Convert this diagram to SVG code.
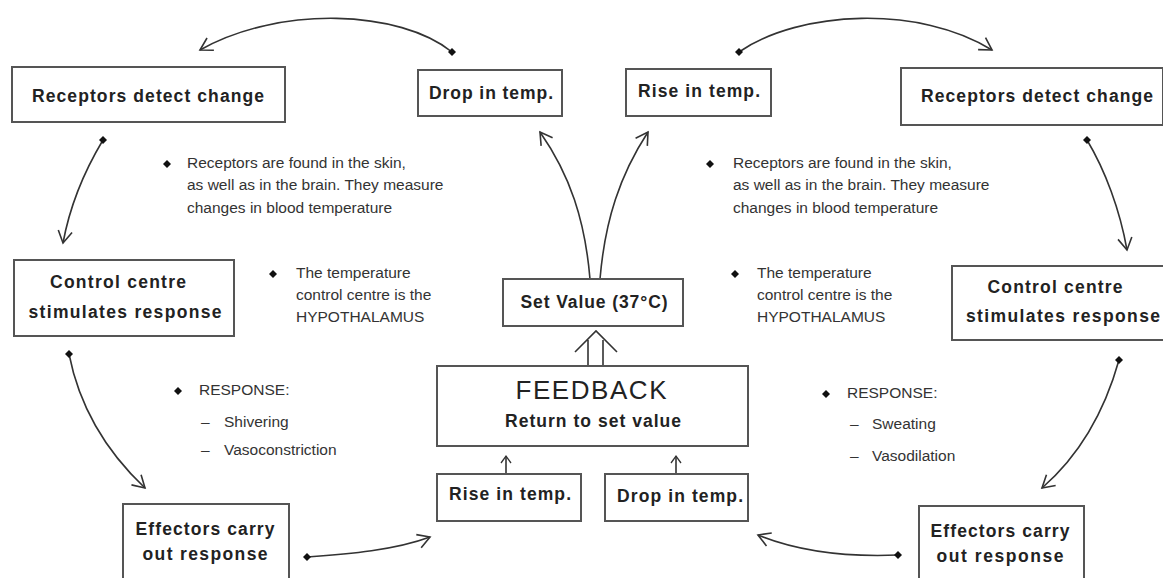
<svg xmlns="http://www.w3.org/2000/svg" width="1163" height="578" viewBox="0 0 1163 578">
<style>
.box{fill:#fff;stroke:#555;stroke-width:2}
.lbl{font-family:"Liberation Sans",Arial,sans-serif;font-weight:bold;font-size:17.5px;fill:#222;text-anchor:middle}
.txt{font-family:"Liberation Sans",Arial,sans-serif;font-size:15.5px;fill:#333}
.big{font-family:"Liberation Sans",Arial,sans-serif;font-size:26px;fill:#222;text-anchor:middle}
.ln{fill:none;stroke:#333;stroke-width:1.6}
.dot{fill:#111}
</style>
<defs>
<marker id="ah" markerWidth="16" markerHeight="16" refX="14" refY="8" orient="auto" markerUnits="userSpaceOnUse">
<path d="M2,1 L14,8 L2,15" fill="none" stroke="#333" stroke-width="1.6"/>
</marker>
<marker id="ahs" markerWidth="12" markerHeight="12" refX="10" refY="6" orient="auto" markerUnits="userSpaceOnUse">
<path d="M3,1 L10,6 L3,11" fill="none" stroke="#333" stroke-width="1.3"/>
</marker>
<path id="dm" d="M0,-4 L4,0 L0,4 L-4,0 Z" fill="#111"/>
</defs>
<rect width="1163" height="578" fill="#fff"/>
<g id="connectors">
<path class="ln" d="M452,52 C400,10 280,5 200,50" marker-end="url(#ah)"/>
<use href="#dm" x="452" y="52"/>
<path class="ln" d="M739,52 C800,10 920,5 992,50" marker-end="url(#ah)"/>
<use href="#dm" x="739" y="52"/>
<path class="ln" d="M103,140 C85,170 70,205 63,243" marker-end="url(#ah)"/>
<use href="#dm" x="103" y="140"/>
<path class="ln" d="M1087,140 C1105,170 1120,210 1127,250" marker-end="url(#ah)"/>
<use href="#dm" x="1087" y="140"/>
<path class="ln" d="M69,354 C80,410 110,455 145,488" marker-end="url(#ah)"/>
<use href="#dm" x="69" y="354"/>
<path class="ln" d="M1119,360 C1105,410 1080,455 1042,488" marker-end="url(#ah)"/>
<use href="#dm" x="1119" y="360"/>
<path class="ln" d="M307,557 C350,554 395,550 430,537" marker-end="url(#ah)"/>
<use href="#dm" x="307" y="557"/>
<path class="ln" d="M898,555 C850,557 800,552 758,535" marker-end="url(#ah)"/>
<use href="#dm" x="898" y="555"/>
<path class="ln" d="M590,279 C585,220 570,175 540,132" marker-end="url(#ah)"/>
<path class="ln" d="M600,279 C605,220 620,175 648,132" marker-end="url(#ah)"/>
<path class="ln" d="M588,366 V340 M603,366 V340 M575,352 L596,331 L617,352"/>
<path class="ln" stroke-width="1.3" d="M506,474 V456" marker-end="url(#ahs)"/>
<path class="ln" stroke-width="1.3" d="M676,474 V456" marker-end="url(#ahs)"/>
</g>
<g id="receptors-left"><rect class="box" x="12" y="67" width="273" height="55"/><text class="lbl" x="148" y="102" textLength="232">Receptors detect change</text></g>
<g id="drop-top"><rect class="box" x="418" y="70" width="144" height="46"/><text class="lbl" x="491" y="99" textLength="124">Drop in temp.</text></g>
<g id="rise-top"><rect class="box" x="626" y="69" width="145" height="47"/><text class="lbl" x="699" y="97" textLength="122">Rise in temp.</text></g>
<g id="receptors-right"><rect class="box" x="901" y="68" width="262" height="57"/><text class="lbl" x="1037" y="102" textLength="232">Receptors detect change</text></g>
<g id="control-left"><rect class="box" x="14" y="260" width="220" height="76"/><text class="lbl" x="118" y="288" textLength="136">Control centre</text><text class="lbl" x="125" y="318" textLength="193">stimulates response</text></g>
<g id="set-value"><rect class="box" x="503" y="279" width="180" height="47"/><text class="lbl" x="594" y="308" textLength="147">Set Value (37°C)</text></g>
<g id="control-right"><rect class="box" x="952" y="266" width="212" height="74"/><text class="lbl" x="1055" y="293" textLength="135">Control centre</text><text class="lbl" x="1063" y="322" textLength="194">stimulates response</text></g>
<g id="feedback"><rect class="box" x="437" y="366" width="311" height="80"/><text class="big" x="591" y="399" textLength="151">FEEDBACK</text><text class="lbl" x="593" y="427" font-size="16" textLength="176">Return to set value</text></g>
<g id="rise-bottom"><rect class="box" x="437" y="474" width="144" height="47"/><text class="lbl" x="510" y="500" textLength="122">Rise in temp.</text></g>
<g id="drop-bottom"><rect class="box" x="605" y="474" width="143" height="47"/><text class="lbl" x="680" y="502" textLength="126">Drop in temp.</text></g>
<g id="effectors-left"><rect class="box" x="123" y="504" width="166" height="80"/><text class="lbl" x="205" y="535" textLength="139">Effectors carry</text><text class="lbl" x="205" y="560" textLength="125">out response</text></g>
<g id="effectors-right"><rect class="box" x="919" y="506" width="165" height="80"/><text class="lbl" x="1000" y="537" textLength="139">Effectors carry</text><text class="lbl" x="1000" y="562" textLength="127">out response</text></g>
<g id="notes-left">
<use href="#dm" x="167" y="164"/>
<text class="txt" x="187" y="168">Receptors are found in the skin,</text>
<text class="txt" x="187" y="190">as well as in the brain. They measure</text>
<text class="txt" x="187" y="213">changes in blood temperature</text>
<use href="#dm" x="273" y="274"/>
<text class="txt" x="296" y="278">The temperature</text>
<text class="txt" x="296" y="300">control centre is the</text>
<text class="txt" x="296" y="322">HYPOTHALAMUS</text>
<use href="#dm" x="178" y="391"/>
<text class="txt" x="199" y="395">RESPONSE:</text>
<text class="txt" x="201" y="427">–</text><text class="txt" x="224" y="427">Shivering</text>
<text class="txt" x="201" y="455">–</text><text class="txt" x="224" y="455">Vasoconstriction</text>
</g>
<g id="notes-right">
<use href="#dm" x="710" y="164"/>
<text class="txt" x="733" y="168">Receptors are found in the skin,</text>
<text class="txt" x="733" y="190">as well as in the brain. They measure</text>
<text class="txt" x="733" y="213">changes in blood temperature</text>
<use href="#dm" x="735" y="274"/>
<text class="txt" x="757" y="278">The temperature</text>
<text class="txt" x="757" y="300">control centre is the</text>
<text class="txt" x="757" y="322">HYPOTHALAMUS</text>
<use href="#dm" x="826" y="394"/>
<text class="txt" x="847" y="398">RESPONSE:</text>
<text class="txt" x="850" y="429">–</text><text class="txt" x="872" y="429">Sweating</text>
<text class="txt" x="850" y="461">–</text><text class="txt" x="872" y="461">Vasodilation</text>
</g>
</svg>
